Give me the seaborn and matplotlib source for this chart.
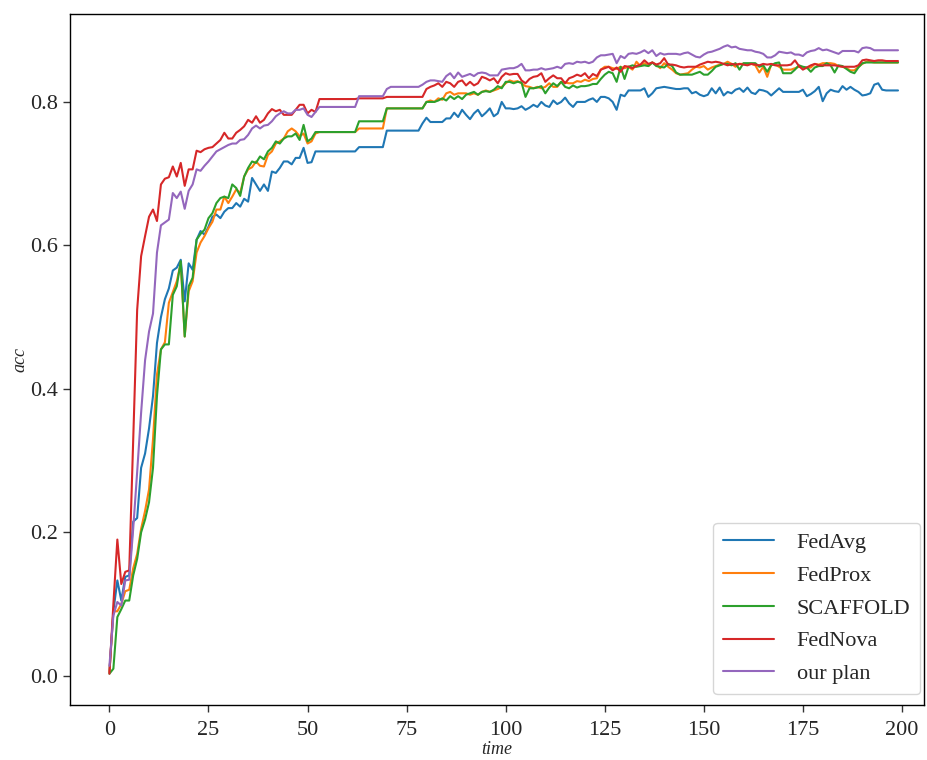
import numpy as np
import pandas as pd
import matplotlib
matplotlib.use("Agg")
import matplotlib.pyplot as plt
import seaborn as sns

# Accuracy per round (rounds 0..199)
rounds = list(range(200))

fedavg = [
    0.005, 0.09, 0.133, 0.105, 0.138, 0.14, 0.215, 0.22, 0.29, 0.31,
    0.345, 0.39, 0.464, 0.50, 0.525, 0.54, 0.565, 0.569, 0.58, 0.522,
    0.575, 0.566, 0.608, 0.62, 0.615, 0.626, 0.64, 0.643, 0.638, 0.647,
    0.652, 0.652, 0.659, 0.654, 0.665, 0.661, 0.694, 0.685, 0.676, 0.685,
    0.676, 0.703, 0.701, 0.708, 0.717, 0.717, 0.713, 0.722, 0.722, 0.736,
    0.715, 0.716, 0.731, 0.731, 0.731, 0.731, 0.731, 0.731, 0.731, 0.731,
    0.731, 0.731, 0.731, 0.737, 0.737, 0.737, 0.737, 0.737, 0.737, 0.737,
    0.760, 0.760, 0.760, 0.760, 0.760, 0.760, 0.760, 0.760, 0.760, 0.770,
    0.778, 0.772, 0.772, 0.772, 0.772, 0.777, 0.777, 0.785, 0.779, 0.789,
    0.782, 0.776, 0.784, 0.789, 0.780, 0.785, 0.791, 0.780, 0.784, 0.800,
    0.791, 0.791, 0.790, 0.791, 0.794, 0.789, 0.792, 0.796, 0.793, 0.800,
    0.795, 0.793, 0.802, 0.797, 0.800, 0.806, 0.798, 0.793, 0.800, 0.800,
    0.800, 0.803, 0.805, 0.800, 0.807, 0.807, 0.805, 0.800, 0.789, 0.810,
    0.808, 0.816, 0.816, 0.816, 0.816, 0.819, 0.807, 0.812, 0.819, 0.820,
    0.821, 0.820, 0.819, 0.818, 0.818, 0.819, 0.819, 0.812, 0.814, 0.810,
    0.808, 0.810, 0.819, 0.812, 0.820, 0.809, 0.814, 0.812, 0.817, 0.819,
    0.814, 0.820, 0.813, 0.811, 0.817, 0.816, 0.814, 0.809, 0.814, 0.819,
    0.814, 0.814, 0.814, 0.814, 0.814, 0.817, 0.808, 0.811, 0.815, 0.821,
    0.801, 0.812, 0.817, 0.815, 0.814, 0.822, 0.817, 0.821, 0.817, 0.814,
    0.809, 0.810, 0.812, 0.824, 0.826, 0.817, 0.816, 0.816, 0.816, 0.816,
]

fedprox = [
    0.005, 0.09, 0.09, 0.10, 0.118, 0.12, 0.15, 0.17, 0.205, 0.23,
    0.26, 0.33, 0.42, 0.455, 0.465, 0.52, 0.535, 0.55, 0.575, 0.473,
    0.536, 0.55, 0.59, 0.604, 0.613, 0.624, 0.633, 0.65, 0.65, 0.668,
    0.659, 0.668, 0.678, 0.673, 0.696, 0.706, 0.709, 0.717, 0.711, 0.71,
    0.726, 0.731, 0.742, 0.745, 0.749, 0.759, 0.763, 0.759, 0.752, 0.756,
    0.742, 0.745, 0.756, 0.758, 0.758, 0.758, 0.758, 0.758, 0.758, 0.758,
    0.758, 0.758, 0.758, 0.763, 0.763, 0.763, 0.763, 0.763, 0.763, 0.763,
    0.791, 0.791, 0.791, 0.791, 0.791, 0.791, 0.791, 0.791, 0.791, 0.791,
    0.800, 0.802, 0.800, 0.805, 0.803, 0.812, 0.814, 0.810, 0.812, 0.812,
    0.812, 0.810, 0.812, 0.810, 0.814, 0.816, 0.814, 0.816, 0.818, 0.821,
    0.826, 0.830, 0.828, 0.829, 0.826, 0.822, 0.821, 0.819, 0.821, 0.819,
    0.821, 0.826, 0.821, 0.821, 0.828, 0.827, 0.826, 0.826, 0.829, 0.828,
    0.831, 0.829, 0.832, 0.833, 0.845, 0.849, 0.849, 0.847, 0.846, 0.849,
    0.847, 0.849, 0.845, 0.856, 0.850, 0.854, 0.850, 0.855, 0.852, 0.847,
    0.854, 0.849, 0.845, 0.840, 0.838, 0.839, 0.840, 0.845, 0.849, 0.848,
    0.850, 0.845, 0.848, 0.850, 0.852, 0.853, 0.856, 0.853, 0.849, 0.853,
    0.853, 0.853, 0.853, 0.851, 0.841, 0.849, 0.835, 0.852, 0.852, 0.849,
    0.845, 0.845, 0.845, 0.847, 0.849, 0.848, 0.847, 0.848, 0.853, 0.852,
    0.854, 0.854, 0.854, 0.853, 0.850, 0.849, 0.847, 0.844, 0.844, 0.849,
    0.853, 0.856, 0.856, 0.855, 0.855, 0.855, 0.855, 0.855, 0.855, 0.855,
]

scaffold = [
    0.003, 0.01, 0.082, 0.093, 0.105, 0.105, 0.14, 0.163, 0.20, 0.218,
    0.242, 0.29, 0.39, 0.455, 0.462, 0.462, 0.531, 0.543, 0.578, 0.473,
    0.543, 0.555, 0.608, 0.616, 0.622, 0.638, 0.645, 0.659, 0.666, 0.668,
    0.666, 0.685, 0.68, 0.669, 0.696, 0.708, 0.717, 0.715, 0.724, 0.72,
    0.731, 0.736, 0.745, 0.742, 0.749, 0.752, 0.752, 0.756, 0.747, 0.768,
    0.745, 0.749, 0.758, 0.758, 0.758, 0.758, 0.758, 0.758, 0.758, 0.758,
    0.758, 0.758, 0.758, 0.773, 0.773, 0.773, 0.773, 0.773, 0.773, 0.773,
    0.791, 0.791, 0.791, 0.791, 0.791, 0.791, 0.791, 0.791, 0.791, 0.791,
    0.800, 0.800, 0.800, 0.802, 0.805, 0.802, 0.808, 0.804, 0.808, 0.804,
    0.810, 0.812, 0.814, 0.810, 0.814, 0.815, 0.814, 0.817, 0.822, 0.819,
    0.828, 0.828, 0.826, 0.828, 0.827, 0.807, 0.819, 0.819, 0.820, 0.822,
    0.812, 0.820, 0.826, 0.822, 0.828, 0.821, 0.819, 0.823, 0.820, 0.822,
    0.822, 0.823, 0.825, 0.825, 0.832, 0.838, 0.842, 0.840, 0.828, 0.849,
    0.832, 0.849, 0.851, 0.849, 0.850, 0.851, 0.850, 0.855, 0.850, 0.849,
    0.848, 0.853, 0.850, 0.841, 0.838, 0.838, 0.838, 0.838, 0.840, 0.842,
    0.838, 0.838, 0.843, 0.849, 0.851, 0.853, 0.853, 0.851, 0.854, 0.845,
    0.854, 0.854, 0.854, 0.854, 0.849, 0.851, 0.842, 0.851, 0.854, 0.855,
    0.840, 0.840, 0.840, 0.845, 0.851, 0.849, 0.848, 0.842, 0.848, 0.850,
    0.850, 0.854, 0.851, 0.841, 0.851, 0.850, 0.846, 0.842, 0.840, 0.848,
    0.854, 0.855, 0.855, 0.855, 0.855, 0.855, 0.855, 0.855, 0.855, 0.855,
]

fednova = [
    0.003, 0.10, 0.19, 0.128, 0.145, 0.147, 0.33, 0.51, 0.585, 0.613,
    0.64, 0.65, 0.634, 0.685, 0.693, 0.695, 0.71, 0.696, 0.715, 0.683,
    0.706, 0.706, 0.732, 0.73, 0.734, 0.736, 0.737, 0.742, 0.747, 0.757,
    0.749, 0.749, 0.757, 0.761, 0.766, 0.775, 0.771, 0.78, 0.771, 0.775,
    0.784, 0.79, 0.787, 0.789, 0.782, 0.782, 0.782, 0.789, 0.796, 0.796,
    0.784, 0.789, 0.786, 0.804, 0.804, 0.804, 0.804, 0.804, 0.804, 0.804,
    0.804, 0.804, 0.804, 0.805, 0.805, 0.805, 0.805, 0.805, 0.805, 0.805,
    0.807, 0.807, 0.807, 0.807, 0.807, 0.807, 0.807, 0.807, 0.807, 0.807,
    0.818, 0.821, 0.823, 0.826, 0.821, 0.828, 0.826, 0.821, 0.828, 0.830,
    0.823, 0.828, 0.823, 0.826, 0.835, 0.833, 0.830, 0.833, 0.826, 0.835,
    0.840, 0.838, 0.839, 0.839, 0.830, 0.826, 0.832, 0.835, 0.836, 0.840,
    0.828, 0.833, 0.837, 0.833, 0.833, 0.826, 0.833, 0.835, 0.838, 0.836,
    0.840, 0.833, 0.839, 0.836, 0.845, 0.847, 0.849, 0.844, 0.848, 0.842,
    0.850, 0.849, 0.847, 0.850, 0.852, 0.858, 0.853, 0.855, 0.852, 0.854,
    0.861, 0.852, 0.852, 0.851, 0.849, 0.848, 0.849, 0.849, 0.849, 0.852,
    0.854, 0.856, 0.855, 0.856, 0.855, 0.853, 0.851, 0.853, 0.852, 0.853,
    0.852, 0.851, 0.853, 0.852, 0.851, 0.853, 0.852, 0.853, 0.851, 0.851,
    0.851, 0.851, 0.852, 0.858, 0.850, 0.845, 0.848, 0.851, 0.853, 0.851,
    0.851, 0.851, 0.851, 0.851, 0.850, 0.849, 0.849, 0.849, 0.849, 0.851,
    0.858, 0.859, 0.858, 0.857, 0.858, 0.858, 0.857, 0.857, 0.857, 0.857,
]

our_plan = [
    0.014, 0.084, 0.103, 0.098, 0.133, 0.134, 0.205, 0.284, 0.367, 0.44,
    0.48, 0.505, 0.59, 0.628, 0.632, 0.636, 0.673, 0.666, 0.675, 0.651,
    0.676, 0.685, 0.706, 0.704, 0.711, 0.717, 0.724, 0.731, 0.734, 0.737,
    0.74, 0.742, 0.742, 0.747, 0.748, 0.754, 0.763, 0.767, 0.763, 0.767,
    0.768, 0.773, 0.78, 0.784, 0.787, 0.784, 0.784, 0.789, 0.789, 0.791,
    0.782, 0.779, 0.786, 0.793, 0.793, 0.793, 0.793, 0.793, 0.793, 0.793,
    0.793, 0.793, 0.793, 0.808, 0.808, 0.808, 0.808, 0.808, 0.808, 0.808,
    0.818, 0.821, 0.821, 0.821, 0.821, 0.821, 0.821, 0.821, 0.821, 0.824,
    0.828, 0.830, 0.830, 0.829, 0.828, 0.836, 0.840, 0.833, 0.841, 0.835,
    0.837, 0.839, 0.836, 0.840, 0.841, 0.840, 0.837, 0.837, 0.837, 0.845,
    0.846, 0.847, 0.847, 0.849, 0.853, 0.844, 0.844, 0.845, 0.845, 0.847,
    0.845, 0.846, 0.847, 0.849, 0.847, 0.853, 0.854, 0.853, 0.856, 0.855,
    0.856, 0.854, 0.856, 0.862, 0.865, 0.865, 0.866, 0.867, 0.854, 0.864,
    0.861, 0.867, 0.868, 0.867, 0.869, 0.872, 0.868, 0.872, 0.864, 0.868,
    0.866, 0.867, 0.867, 0.867, 0.866, 0.868, 0.869, 0.866, 0.863, 0.862,
    0.866, 0.869, 0.870, 0.872, 0.874, 0.877, 0.879, 0.876, 0.877, 0.874,
    0.873, 0.872, 0.872, 0.870, 0.869, 0.867, 0.862, 0.862, 0.865, 0.870,
    0.869, 0.868, 0.869, 0.866, 0.866, 0.864, 0.869, 0.871, 0.872, 0.875,
    0.872, 0.873, 0.871, 0.869, 0.867, 0.871, 0.871, 0.871, 0.871, 0.869,
    0.875, 0.876, 0.875, 0.872, 0.872, 0.872, 0.872, 0.872, 0.872, 0.872,
]

methods = ["FedAvg", "FedProx", "SCAFFOLD", "FedNova", "our plan"]
series = [fedavg, fedprox, scaffold, fednova, our_plan]

df = pd.concat(
    [pd.DataFrame({"time": rounds, "acc": vals, "method": name})
     for name, vals in zip(methods, series)],
    ignore_index=True,
)

sns.set_style("ticks")
plt.rcParams["font.family"] = ["Liberation Serif", "DejaVu Serif"]

fig = plt.figure(figsize=(9.27, 7.6), dpi=100)
ax = fig.add_axes([0.0755, 0.072, 0.921, 0.91])

sns.lineplot(data=df, x="time", y="acc", hue="method", hue_order=methods,
             palette=sns.color_palette("tab10", 5), linewidth=1.5, ax=ax)

ax.set_xlim(-9.95, 205.5)
ax.set_ylim(-0.041, 0.923)
ax.set_xticks([0, 25, 50, 75, 100, 125, 150, 175, 200])
ax.set_yticks([0.0, 0.2, 0.4, 0.6, 0.8])
ax.set_yticklabels(["0.0", "0.2", "0.4", "0.6", "0.8"])
ax.tick_params(axis="both", labelsize=16, length=5, width=1, color="#333333")
ax.tick_params(axis="x", pad=6)
ax.set_xlabel("time", fontsize=13, style="italic", labelpad=1)
ax.set_ylabel("acc", fontsize=13, style="italic", labelpad=1)
for s in ax.spines.values():
    s.set_color("black")
    s.set_linewidth(1)

ax.legend(loc="lower right", bbox_to_anchor=(1.009, 0.0), fontsize=16,
          handlelength=2.3, borderpad=0.45, labelspacing=0.55,
          handletextpad=1.0, frameon=True, fancybox=True)

fig.savefig("out.png", dpi=100)
